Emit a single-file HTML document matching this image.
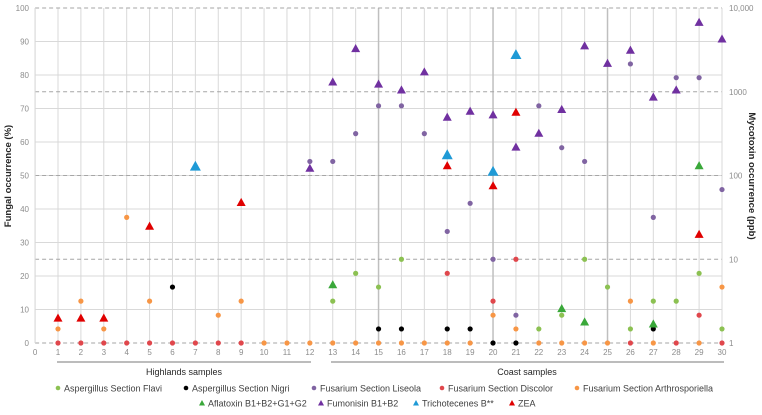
<!DOCTYPE html>
<html><head><meta charset="utf-8"><style>
html,body{margin:0;padding:0;background:#fff;}
svg{display:block;font-family:"Liberation Sans",sans-serif;}
</style></head><body>
<svg id="chart" width="762" height="415" viewBox="0 0 762 415" xmlns="http://www.w3.org/2000/svg"></svg>
<script>
// ---- data ----
const samples = [1,2,3,4,5,6,7,8,9,10,11,12,13,14,15,16,17,18,19,20,21,22,23,24,25,26,27,28,29,30];
const xTicks = [0,1,2,3,4,5,6,7,8,9,10,11,12,13,14,15,16,17,18,19,20,21,22,23,24,25,26,27,28,29,30];
const leftTicks = [0,10,20,30,40,50,60,70,80,90,100];
const rightTicks = [1,10,100,1000,10000];
const rightTickLabels = ["1","10","100","1000","10,000"];
const N = null;
// fungal occurrence (%) per sample 1..30
const flavi =   [N,N,N,N,N,N,N,N,N,N,N,N,12.5,20.8,16.7,25,N,N,N,N,N,4.2,8.3,25,16.7,4.2,12.5,12.5,20.8,4.2];
const nigri =   [N,N,N,N,N,16.7,N,N,N,N,N,N,N,N,4.2,4.2,N,4.2,4.2,0,0,N,N,N,N,N,4.2,N,N,N];
const liseola = [N,N,N,N,N,N,N,N,N,N,N,54.2,54.2,62.5,70.8,70.8,62.5,33.3,41.7,25,8.3,70.8,58.3,54.2,N,83.3,37.5,79.2,79.2,45.8];
const discolor =[0,0,0,0,0,0,0,0,0,N,N,N,N,N,N,N,N,20.8,N,12.5,25,N,N,N,N,0,N,0,8.3,0];
const arthro =  [4.2,12.5,4.2,37.5,12.5,N,N,8.3,12.5,0,0,0,0,0,0,0,0,0,0,8.3,4.2,0,0,0,0,12.5,0,N,0,16.7];
// mycotoxin occurrence (ppb, log axis)
const aflatoxin = [N,N,N,N,N,N,N,N,N,N,N,N,5.0,N,N,N,N,N,N,N,N,N,2.6,1.8,N,N,1.7,N,132,N];
const fumonisin = [N,N,N,N,N,N,N,N,N,N,N,123,1318,3300,1245,1060,1740,500,590,535,220,322,620,3560,2200,3160,870,1060,6800,4300];
const tricho =    [N,N,N,N,N,N,130,N,N,N,N,N,N,N,N,N,N,178,N,113,2800,N,N,N,N,N,N,N,N,N];
const zea =       [2.0,2.0,2.0,N,25,N,N,N,48,N,N,N,N,N,N,N,N,132,N,76,575,N,N,N,N,N,N,N,20,N];

// ---- scales ----
const X0=35.1, X1=722, Y0=343, Y1=8;
const xs = v => X0 + (X1-X0)*v/30;
const yl = v => Y0 - (Y0-Y1)*v/100;
const yr = v => Y0 - (Y0-Y1)*Math.log10(v)/4;
const svg = document.getElementById('chart');
const NS = "http://www.w3.org/2000/svg";
function mk(tag, attrs, parent){const e=document.createElementNS(NS,tag);for(const k in attrs)e.setAttribute(k,attrs[k]);(parent||svg).appendChild(e);return e;}

// grid
const grid = mk('g',{});


leftTicks.forEach(t=>{ if(t>0&&t<100) mk('line',{x1:X0,x2:X1,y1:yl(t),y2:yl(t),stroke:'#d9d9d9','stroke-width':1},grid); });
xTicks.forEach(t=>{ const dark=(t===15||t===20||t===25); mk('line',{x1:xs(t),x2:xs(t),y1:Y1,y2:Y0,stroke:dark?'#bfbfbf':'#d9d9d9','stroke-width':dark?1.5:1},grid); });
rightTicks.forEach(t=>{ mk('line',{x1:X0,x2:X1,y1:yr(t),y2:yr(t),stroke:'#a6a6a6','stroke-width':1,'stroke-dasharray':'4,3'},grid); });
mk('line',{x1:X0,x2:X0,y1:Y1,y2:Y0,stroke:'#d9d9d9'},grid);
mk('line',{x1:X1,x2:X1,y1:Y1,y2:Y0,stroke:'#d9d9d9'},grid);

// tick labels
leftTicks.forEach(t=>{ const e=mk('text',{x:29,y:yl(t)+3,'text-anchor':'end','font-size':8,fill:'#8c8c8c'}); e.textContent=t;
    });
rightTicks.forEach((t,i)=>{ const e=mk('text',{x:729,y:yr(t)+3,'font-size':8,fill:'#8c8c8c'}); e.textContent=rightTickLabels[i];
    });
xTicks.forEach(t=>{ const e=mk('text',{x:xs(t),y:355,'text-anchor':'middle','font-size':8,fill:'#8c8c8c'}); e.textContent=t;
    });

// axis titles
let at=mk('text',{transform:'translate(11,176) rotate(-90)','text-anchor':'middle','font-size':9.5,'font-weight':'bold',fill:'#262626'}); at.textContent='Fungal occurrence (%)';
 
at=mk('text',{transform:'translate(749,176) rotate(90)','text-anchor':'middle','font-size':9.5,'font-weight':'bold',fill:'#262626'}); at.textContent='Mycotoxin occurrence (ppb)';
 

// group brackets
let b=mk('line',{x1:57,x2:311,y1:362,y2:362,stroke:'#a6a6a6','stroke-width':1.5});
 
b=mk('line',{x1:331,x2:724,y1:362,y2:362,stroke:'#a6a6a6','stroke-width':1.5});
 
let gt=mk('text',{x:184,y:375,'text-anchor':'middle','font-size':9,fill:'#262626'}); gt.textContent='Highlands samples';
 
gt=mk('text',{x:527,y:375,'text-anchor':'middle','font-size':9,fill:'#262626'}); gt.textContent='Coast samples';
 

// series
function dots(arr,color,name){ const g=mk('g',{});  
  arr.forEach((v,i)=>{ if(v===null) return; const c=mk('circle',{cx:xs(samples[i]),cy:yl(v),r:2.6,fill:color},g);
      }); }
function tris(arr,color,name,s){ const g=mk('g',{});  
  arr.forEach((v,i)=>{ if(v===null) return; const x=xs(samples[i]), y=yr(v);
    const p=mk('polygon',{points:`${x-s},${y+s*0.85} ${x+s},${y+s*0.85} ${x},${y-s*0.95}`,fill:color},g);
      }); }
dots(flavi,'#8cc152','flavi');
dots(liseola,'#8064a2','liseola');
dots(discolor,'#e0474c','discolor');
dots(arthro,'#f79646','arthrosporiella');
dots(nigri,'#000000','nigri');
tris(aflatoxin,'#3aa83a','aflatoxin',4.5);
tris(fumonisin,'#7030a0','fumonisin',4.5);
tris(tricho,'#1f9ad6','trichothecenes',5.5);
tris(zea,'#e00000','zea',4.5);

// legend
const leg=mk('g',{});  
const row1=[['Aspergillus Section Flavi','#8cc152',58],['Aspergillus Section Nigri','#000000',186],['Fusarium Section Liseola','#8064a2',314],['Fusarium Section Discolor','#e0474c',442],['Fusarium Section Arthrosporiella','#f79646',577]];
row1.forEach(r=>{ const g=mk('g',{},leg);  
  mk('circle',{cx:r[2],cy:388,r:2.3,fill:r[1]},g); const t=mk('text',{x:r[2]+6,y:391.5,'font-size':9,fill:'#404040'},g); t.textContent=r[0]; });
const row2=[['Aflatoxin B1+B2+G1+G2','#3aa83a',202],['Fumonisin B1+B2','#7030a0',321],['Trichotecenes B**','#1f9ad6',416],['ZEA','#e00000',512]];
row2.forEach(r=>{ const g=mk('g',{},leg);  
  const x=r[2],y=403; mk('polygon',{points:`${x-3},${y+2.5} ${x+3},${y+2.5} ${x},${y-3}`,fill:r[1]},g);
  const t=mk('text',{x:x+6,y:406.5,'font-size':9,fill:'#404040'},g); t.textContent=r[0]; });
</script>
</body></html>
